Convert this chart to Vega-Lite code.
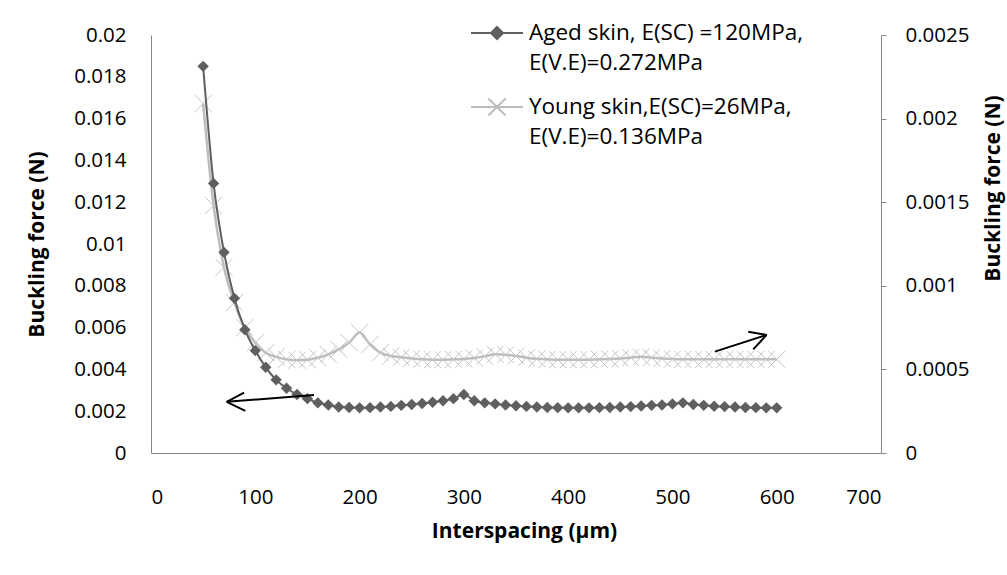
{
  "$schema": "https://vega.github.io/schema/vega-lite/v6.json",
  "width": 730,
  "height": 418,
  "autosize": {"type": "none"},
  "padding": {"left": 151, "top": 35, "right": 126, "bottom": 122},
  "background": "white",
  "config": {
    "view": {"stroke": null},
    "font": "Open Sans",
    "axis": {"labelFont": "Open Sans", "titleFont": "Open Sans", "labelColor": "#000", "titleColor": "#000", "domainColor": "#868686", "tickColor": "#868686", "grid": false, "labelFontSize": 20.5, "titleFontSize": 21, "titleFontWeight": "bold"}
  },
  "datasets": {
    "buckling": [
      {"interspacing": 50, "aged": 0.0185, "young": 0.00209},
      {"interspacing": 60, "aged": 0.0129, "young": 0.00148},
      {"interspacing": 70, "aged": 0.0096, "young": 0.00111},
      {"interspacing": 80, "aged": 0.0074, "young": 0.0009},
      {"interspacing": 90, "aged": 0.0059, "young": 0.00075},
      {"interspacing": 100, "aged": 0.0049, "young": 0.00066},
      {"interspacing": 110, "aged": 0.0041, "young": 0.0006},
      {"interspacing": 120, "aged": 0.0035, "young": 0.000575},
      {"interspacing": 130, "aged": 0.0031, "young": 0.00056},
      {"interspacing": 140, "aged": 0.0028, "young": 0.000555},
      {"interspacing": 150, "aged": 0.0026, "young": 0.000558},
      {"interspacing": 160, "aged": 0.0024, "young": 0.00057},
      {"interspacing": 170, "aged": 0.0023, "young": 0.00059},
      {"interspacing": 180, "aged": 0.0022, "young": 0.00062},
      {"interspacing": 190, "aged": 0.00218, "young": 0.00066},
      {"interspacing": 200, "aged": 0.00216, "young": 0.00072},
      {"interspacing": 210, "aged": 0.00217, "young": 0.00065},
      {"interspacing": 220, "aged": 0.0022, "young": 0.0006},
      {"interspacing": 230, "aged": 0.00223, "young": 0.00058},
      {"interspacing": 240, "aged": 0.00228, "young": 0.000572},
      {"interspacing": 250, "aged": 0.00232, "young": 0.000565},
      {"interspacing": 260, "aged": 0.00237, "young": 0.00056},
      {"interspacing": 270, "aged": 0.00243, "young": 0.000558},
      {"interspacing": 280, "aged": 0.0025, "young": 0.000558},
      {"interspacing": 290, "aged": 0.0026, "young": 0.00056},
      {"interspacing": 300, "aged": 0.0028, "young": 0.000562},
      {"interspacing": 310, "aged": 0.0025, "young": 0.000568},
      {"interspacing": 320, "aged": 0.0024, "young": 0.000578},
      {"interspacing": 330, "aged": 0.00235, "young": 0.00059},
      {"interspacing": 340, "aged": 0.0023, "young": 0.000588},
      {"interspacing": 350, "aged": 0.00226, "young": 0.00058},
      {"interspacing": 360, "aged": 0.00223, "young": 0.00057},
      {"interspacing": 370, "aged": 0.0022, "young": 0.000563},
      {"interspacing": 380, "aged": 0.00218, "young": 0.00056},
      {"interspacing": 390, "aged": 0.00217, "young": 0.000558},
      {"interspacing": 400, "aged": 0.00216, "young": 0.000558},
      {"interspacing": 410, "aged": 0.00216, "young": 0.000558},
      {"interspacing": 420, "aged": 0.00216, "young": 0.000558},
      {"interspacing": 430, "aged": 0.00217, "young": 0.00056},
      {"interspacing": 440, "aged": 0.00218, "young": 0.000562},
      {"interspacing": 450, "aged": 0.0022, "young": 0.000565},
      {"interspacing": 460, "aged": 0.00222, "young": 0.00057},
      {"interspacing": 470, "aged": 0.00225, "young": 0.000575},
      {"interspacing": 480, "aged": 0.00228, "young": 0.00057},
      {"interspacing": 490, "aged": 0.0023, "young": 0.000565},
      {"interspacing": 500, "aged": 0.00235, "young": 0.000562},
      {"interspacing": 510, "aged": 0.0024, "young": 0.00056},
      {"interspacing": 520, "aged": 0.00232, "young": 0.00056},
      {"interspacing": 530, "aged": 0.00228, "young": 0.00056},
      {"interspacing": 540, "aged": 0.00224, "young": 0.00056},
      {"interspacing": 550, "aged": 0.00222, "young": 0.00056},
      {"interspacing": 560, "aged": 0.0022, "young": 0.00056},
      {"interspacing": 570, "aged": 0.00218, "young": 0.00056},
      {"interspacing": 580, "aged": 0.00217, "young": 0.00056},
      {"interspacing": 590, "aged": 0.00216, "young": 0.00056},
      {"interspacing": 600, "aged": 0.00216, "young": 0.00056}
    ],
    "arrows": [
      {"interspacing": 156.3, "interspacing_end": 72.6, "force": 0.00278, "force_end": 0.00245},
      {"interspacing": 72.6, "interspacing_end": 89.2, "force": 0.00245, "force_end": 0.00289},
      {"interspacing": 72.6, "interspacing_end": 90.4, "force": 0.00245, "force_end": 0.00202},
      {"interspacing": 540.7, "interspacing_end": 590.3, "force": 0.00485, "force_end": 0.00565},
      {"interspacing": 590.3, "interspacing_end": 572.7, "force": 0.00565, "force_end": 0.0058},
      {"interspacing": 590.3, "interspacing_end": 577.5, "force": 0.00565, "force_end": 0.00496}
    ]
  },
  "layer": [
    {
      "data": {"name": "buckling"},
      "encoding": {
        "x": {"field": "interspacing", "type": "quantitative", "scale": {"domain": [0, 700], "nice": false}, "axis": {"title": "Interspacing (µm)", "values": [0, 100, 200, 300, 400, 500, 600, 700], "tickSize": 0, "labelPadding": 34, "titleX": 373, "titleY": 78, "titleBaseline": "middle", "titleAlign": "center"}},
        "y": {"field": "young", "type": "quantitative", "scale": {"domain": [0, 0.0025], "nice": false}, "axis": {"orient": "right", "title": "Buckling force (N)", "values": [0, 0.0005, 0.001, 0.0015, 0.002, 0.0025], "format": "~g", "tickSize": 5, "labelPadding": 19, "titleAngle": 270, "titleX": 112, "titleY": 153, "titleAlign": "center", "titleBaseline": "middle"}}
      },
      "layer": [
        {
          "mark": {"type": "line", "strokeWidth": 2.5, "interpolate": "monotone"},
          "encoding": {
            "color": {
              "datum": "Young skin",
              "scale": {"domain": ["Aged skin", "Young skin"], "range": ["#5f5f5f", "#bdbdbd"]},
              "legend": {
                "orient": "none", "legendX": 319, "legendY": -29, "title": null,
                "symbolSize": 2704, "symbolStrokeWidth": 2, "labelFontSize": 22.5, "labelFont": "Open Sans", "labelColor": "#000", "labelOffset": 5, "rowPadding": 5, "labelLimit": 400,
                "labelExpr": "datum.index == 0 ? ['Aged skin, E(SC) =120MPa,', 'E(V.E)=0.272MPa'] : ['Young skin,E(SC)=26MPa,', 'E(V.E)=0.136MPa']",
                "encode": {
                  "symbols": {"update": {
                    "shape": {"signal": "datum.index == 0 ? 'M-1,0H1M0,-0.23L0.23,0L0,0.23L-0.23,0Z' : 'M-1,0H1M-0.33,-0.33L0.33,0.33M-0.33,0.33L0.33,-0.33'"},
                    "fill": {"signal": "datum.index == 0 ? '#5f5f5f' : 'transparent'"}
                  }},
                  "labels": {"update": {"lineHeight": {"value": 30}}}
                }
              }
            }
          }
        },
        {
          "mark": {"type": "point", "shape": "M-1,-1L1,1M-1,1L1,-1", "filled": false, "color": "#c4c4c4", "size": 290, "strokeWidth": 1, "opacity": 1}
        }
      ]
    },
    {
      "data": {"name": "buckling"},
      "encoding": {
        "x": {"field": "interspacing", "type": "quantitative"},
        "y": {"field": "aged", "type": "quantitative", "scale": {"domain": [0, 0.02], "nice": false}, "axis": {"orient": "left", "title": "Buckling force (N)", "values": [0, 0.002, 0.004, 0.006, 0.008, 0.01, 0.012, 0.014, 0.016, 0.018, 0.02], "format": "~g", "tickSize": 0, "labelPadding": 25, "titleAngle": 270, "titleX": -114, "titleY": 209, "titleAlign": "center", "titleBaseline": "middle"}}
      },
      "layer": [
        {
          "mark": {"type": "line", "strokeWidth": 2, "interpolate": "monotone"},
          "encoding": {"color": {"datum": "Aged skin"}}
        },
        {
          "mark": {"type": "point", "shape": "diamond", "filled": true, "color": "#5f5f5f", "size": 130, "opacity": 1}
        }
      ]
    },
    {
      "data": {"name": "arrows"},
      "mark": {"type": "rule", "color": "#000", "strokeWidth": 2},
      "encoding": {
        "x": {"field": "interspacing", "type": "quantitative"},
        "x2": {"field": "interspacing_end"},
        "y": {"field": "force", "type": "quantitative", "scale": {"domain": [0, 0.02], "nice": false}, "axis": null},
        "y2": {"field": "force_end"}
      }
    }
  ],
  "resolve": {"scale": {"y": "independent"}}
}
